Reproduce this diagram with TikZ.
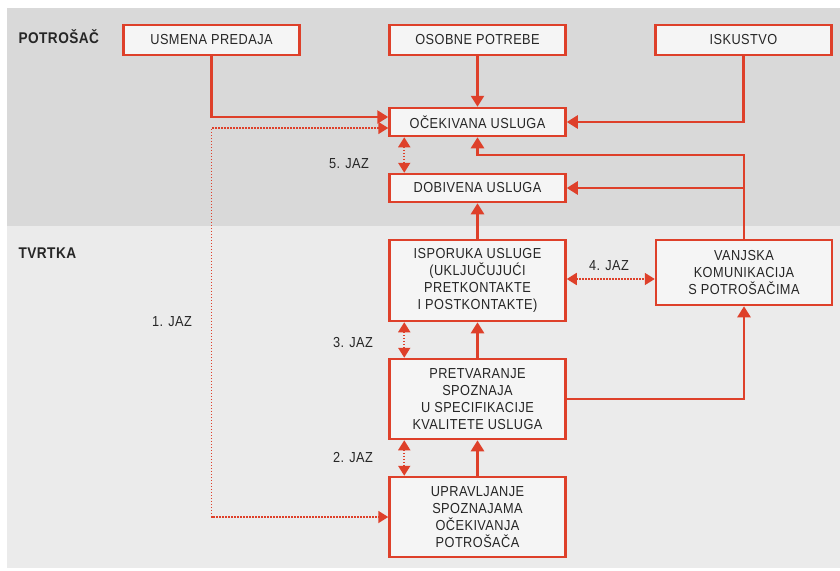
\documentclass[tikz,border=0pt]{standalone}
\usepackage{fontspec}
\setmainfont{Liberation Sans}[FakeStretch=0.88,LetterSpace=3]
\usetikzlibrary{positioning,arrows.meta}
\definecolor{jazred}{RGB}{222,64,42}
\definecolor{bandtop}{RGB}{217,217,217}
\definecolor{bandbottom}{RGB}{235,235,235}
\definecolor{boxfill}{RGB}{245,245,245}
\definecolor{labelgray}{RGB}{38,38,38}

\begin{document}
\begin{tikzpicture}[x=1pt,y=-1pt,
	box/.style={draw=jazred, line width=2.5pt, fill=boxfill, text=labelgray, font=\fontsize{14.5}{17}\selectfont, align=center, minimum width=176pt, inner sep=0pt},
	flow/.style={draw=jazred, line width=2.5pt, -{Triangle[length=11pt,width=13pt]}},
	gap/.style={draw=jazred, line width=1.8pt, dash pattern=on 1.6pt off 1.4pt, {Triangle[length=10pt,width=12pt]}-{Triangle[length=10pt,width=12pt]}},
	jaz/.style={text=labelgray, font=\fontsize{14.5}{16}\selectfont},
	side/.style={text=labelgray, font=\bfseries\fontsize{15.5}{16}\selectfont, anchor=west}]

	\useasboundingbox (0,0) rectangle (840,570);
	\fill[bandtop] (7,8) rectangle (840,226);
	\fill[bandbottom] (7,226) rectangle (840,568);

	\node[side] (potrosac) at (15,37) {POTROŠAČ};
	\node[side] (tvrtka) at (15,253) {TVRTKA};

	\node[box, minimum height=30pt] (usmena) at (211.5,40) {USMENA PREDAJA};
	\node[box, minimum height=30pt] (osobne) at (477.5,40) {OSOBNE POTREBE};
	\node[box, minimum height=30pt] (iskustvo) at (743.5,40) {ISKUSTVO};

	\node[box, minimum height=28pt] (ocekivana) at (477.5,122) {OČEKIVANA USLUGA};
	\node[box, minimum height=28pt] (dobivena) at (477.5,188) {DOBIVENA USLUGA};

	\node[box, minimum height=81pt] (isporuka) at (477.5,280.5) {ISPORUKA USLUGE\\(UKLJUČUJUĆI\\PRETKONTAKTE\\I POSTKONTAKTE)};
	\node[box, minimum height=65pt] (vanjska) at (744,272.5) {VANJSKA\\KOMUNIKACIJA\\S POTROŠAČIMA};
	\node[box, minimum height=80pt] (pretvaranje) at (477.5,399) {PRETVARANJE\\SPOZNAJA\\U SPECIFIKACIJE\\KVALITETE USLUGA};
	\node[box, minimum height=80pt] (upravljanje) at (477.5,517) {UPRAVLJANJE\\SPOZNAJAMA\\OČEKIVANJA\\POTROŠAČA};

	\coordinate (bend) at (744,155);

	\draw[flow] (usmena.south) |- ([yshift=5pt]ocekivana.west);
	\draw[flow] (osobne) -- (ocekivana);
	\draw[flow] (iskustvo.south) |- (ocekivana.east);
	\draw[flow] (vanjska.north) -- (bend) -| (ocekivana.south);
	\draw[flow] (vanjska.north |- dobivena.east) -- (dobivena.east);
	\draw[flow] (isporuka) -- (dobivena);
	\draw[flow] (pretvaranje) -- (isporuka);
	\draw[flow] (upravljanje) -- (pretvaranje);
	\draw[flow] (pretvaranje.east) -| (vanjska.south);

	\draw[gap] ([yshift=-6pt]ocekivana.west) -| (usmena.south |- upravljanje.west) -- (upravljanje.west);
	\draw[gap] ([xshift=16pt]ocekivana.south west) -- ([xshift=16pt]dobivena.north west);
	\draw[gap] ([yshift=1.5pt]isporuka.east) -- ([yshift=1.5pt]isporuka.east -| vanjska.west);
	\draw[gap] ([xshift=16pt]isporuka.south west) -- ([xshift=16pt]pretvaranje.north west);
	\draw[gap] ([xshift=16pt]pretvaranje.south west) -- ([xshift=16pt]upravljanje.north west);

	\node[jaz] (jaz1) at (172,322) {1. JAZ};
	\node[jaz] (jaz2) at (353,458) {2. JAZ};
	\node[jaz] (jaz3) at (353,343) {3. JAZ};
	\node[jaz] (jaz4) at (609,266) {4. JAZ};
	\node[jaz] (jaz5) at (349,164) {5. JAZ};
\end{tikzpicture}
\end{document}
